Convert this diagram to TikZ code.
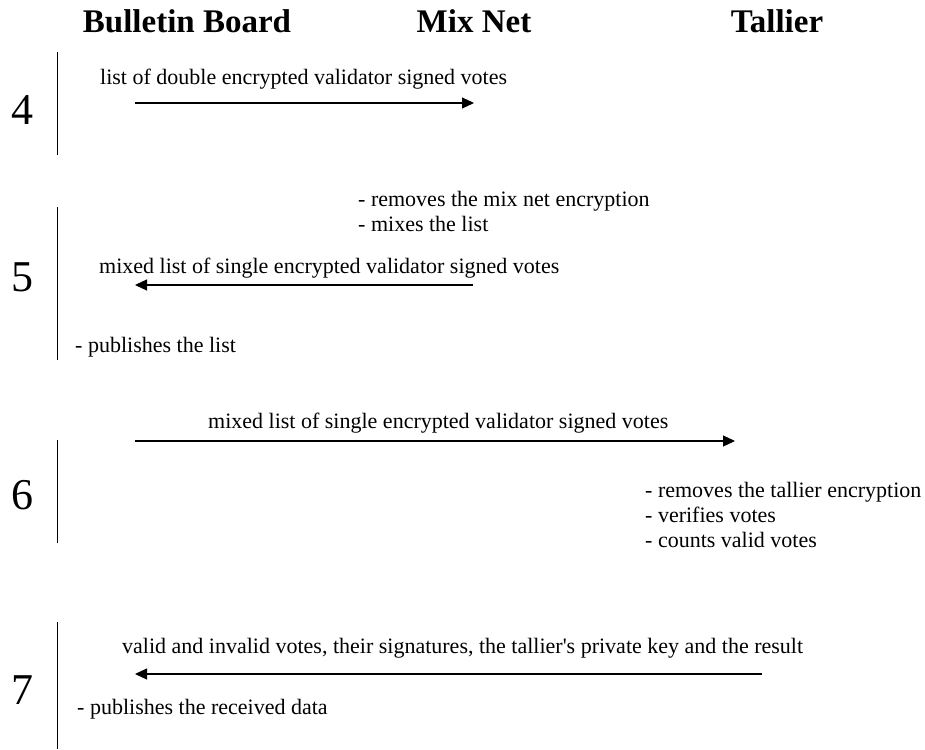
\documentclass[tikz,border=0pt]{standalone}
\usepackage{fontspec}
\setmainfont{Liberation Serif}
\usetikzlibrary{arrows.meta}
\begin{document}
\begin{tikzpicture}[x=1pt,y=-1pt,
  title/.style={font=\fontsize{33}{38}\selectfont\bfseries, inner sep=0pt, anchor=base},
  stepnum/.style={font=\fontsize{44}{50}\selectfont, inner sep=0pt},
  txt/.style={font=\fontsize{22}{25}\selectfont, inner sep=0pt, anchor=base west},
  msgarrow/.style={line width=1.1pt, -{Triangle[length=12pt,width=11pt]}},
  phase/.style={line width=0.8pt}]
\useasboundingbox (0,0) rectangle (925,749);

% column titles
\node[title] (tbb) at (187,33) {Bulletin Board};
\node[title] (tmn) at (474,33) {Mix Net};
\node[title] (tta) at (777,33) {Tallier};

% step 4
\node[stepnum] (n4) at (23,110) {4};
\coordinate (p4a) at (57,52);
\coordinate (p4b) at (57,155);
\draw[phase] (p4a) -- (p4b);
\node[txt] (m4) at (100,85) {list of double encrypted validator signed votes};
\coordinate (a4s) at (135,103);
\coordinate (a4e) at (474,103);
\draw[msgarrow] (a4s) -- (a4e);

% step 5
\node[stepnum] (n5) at (23,277) {5};
\coordinate (p5a) at (57,207);
\coordinate (p5b) at (57,360);
\draw[phase] (p5a) -- (p5b);
\node[txt] (r5a) at (358,206) {- removes the mix net encryption};
\node[txt] (r5b) at (358,231) {- mixes the list};
\node[txt] (m5) at (99,273) {mixed list of single encrypted validator signed votes};
\coordinate (a5s) at (473,285);
\coordinate (a5e) at (135,285);
\draw[msgarrow] (a5s) -- (a5e);
\node[txt] (b5) at (75,352) {- publishes the list};

% step 6
\node[stepnum] (n6) at (23,495) {6};
\coordinate (p6a) at (57,440);
\coordinate (p6b) at (57,543);
\draw[phase] (p6a) -- (p6b);
\node[txt] (m6) at (208,428) {mixed list of single encrypted validator signed votes};
\coordinate (a6s) at (135,441);
\coordinate (a6e) at (735,441);
\draw[msgarrow] (a6s) -- (a6e);
\node[txt] (t6a) at (645,497) {- removes the tallier encryption};
\node[txt] (t6b) at (645,522) {- verifies votes};
\node[txt] (t6c) at (645,547) {- counts valid votes};

% step 7
\node[stepnum] (n7) at (23,690) {7};
\coordinate (p7a) at (57,622);
\coordinate (p7b) at (57,749);
\draw[phase] (p7a) -- (p7b);
\node[txt] (m7) at (122,653) {valid and invalid votes, their signatures, the tallier\textquotesingle s private key and the result};
\coordinate (a7s) at (762,674);
\coordinate (a7e) at (135,674);
\draw[msgarrow] (a7s) -- (a7e);
\node[txt] (b7) at (77,714) {- publishes the received data};
\end{tikzpicture}
\end{document}
